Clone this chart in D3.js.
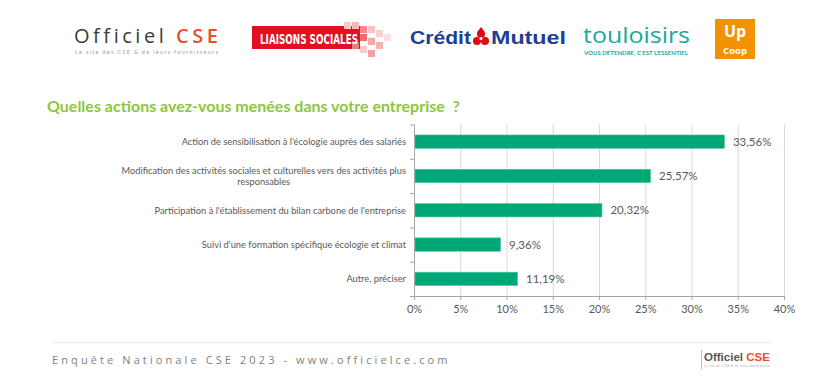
<!DOCTYPE html>
<html><head><meta charset="utf-8">
<script src="https://cdn.jsdelivr.net/npm/d3@7"></script>
<style>body{margin:0;background:#fff}svg{display:block;font-family:Lato,"Open Sans",sans-serif}</style>
</head><body>
<svg id="c" width="832" height="380"></svg>
<script>
const categories = [
  "Action de sensibilisation à l'écologie auprès des salariés",
  "Modification des activités sociales et culturelles vers des activités plus|responsables",
  "Participation à l'établissement du bilan carbone de l'entreprise",
  "Suivi d'une formation spécifique écologie et climat",
  "Autre, préciser"
];
const values = [33.56, 25.57, 20.32, 9.36, 11.19];
const valueLabels = ["33,56%", "25,57%", "20,32%", "9,36%", "11,19%"];
const xTicks = [0, 5, 10, 15, 20, 25, 30, 35, 40];
const title = "Quelles actions avez-vous menées dans votre entreprise  ?";
const footer = "Enquête Nationale CSE 2023 - www.officielce.com";

const svg = d3.select("#c");
const x = d3.scaleLinear().domain([0, 40]).range([414, 784]);
const y = d3.scaleBand().domain(categories).range([124.5, 296]).paddingInner(0.61).paddingOuter(0.305);

// ---- logos (approximations as text/shapes)
const lg = svg.append("g");
lg.append("text").attr("x", 74).attr("y", 43).attr("font-family", "'Open Sans',sans-serif").attr("font-size", 20).attr("fill", "#3c3c3c")
  .style("font-variant-ligatures", "none").style("font-feature-settings", "'liga' 0")
  .attr("textLength", 144).attr("lengthAdjust", "spacing").text("Officiel ")
  .append("tspan").attr("fill", "#e5532d").attr("font-weight", 600).text("CSE");
lg.append("text").attr("x", 75).attr("y", 54).attr("font-size", 5.4).attr("fill", "#9a9a9a").attr("textLength", 143).attr("lengthAdjust", "spacing").text("Le site des CSE & de leurs fournisseurs");

lg.append("rect").attr("x", 252).attr("y", 26).attr("width", 108).attr("height", 23).attr("fill", "#e3101f");
const sq = [[352,22,"#f7b7b7"],[360,26,"#f28a8a"],[368,26,"#f6c1c1"],[376,30,"#f9d0d0"],[360,34,"#ee6b6b"],[368,38,"#f4a9a9"],[352,42,"#ef7b7b"],[376,42,"#f5b4b4"],[360,46,"#f8caca"],[368,50,"#f3a0a0"],[384,34,"#fbe0e0"],[344,22,"#f7c9c9"]];
sq.forEach(s => lg.append("rect").attr("x", s[0]).attr("y", s[1]).attr("width", 7).attr("height", 7).attr("fill", s[2]));
lg.append("text").attr("x", 260).attr("y", 44).attr("font-family", "'Liberation Sans Narrow','DejaVu Sans Condensed',sans-serif").attr("font-weight", 700).attr("font-size", 14).attr("fill", "#fff").attr("textLength", 98).attr("lengthAdjust", "spacingAndGlyphs").text("LIAISONS SOCIALES");

lg.append("text").attr("x", 410).attr("y", 44).attr("font-family", "'Liberation Sans',Arial,sans-serif").attr("font-weight", 700).attr("font-size", 18).attr("fill", "#1c3f94").attr("textLength", 61).attr("lengthAdjust", "spacingAndGlyphs").text("Crédit");
lg.append("text").attr("x", 491).attr("y", 44).attr("font-family", "'Liberation Sans',Arial,sans-serif").attr("font-weight", 700).attr("font-size", 18).attr("fill", "#1c3f94").attr("textLength", 75).attr("lengthAdjust", "spacingAndGlyphs").text("Mutuel");
[[481,34],[477,41],[485,41]].forEach(c => lg.append("circle").attr("cx", c[0]).attr("cy", c[1]).attr("r", 4).attr("fill", "#e30613"));
lg.append("circle").attr("cx", 481).attr("cy", 38.5).attr("r", 1.6).attr("fill", "#fff");
lg.append("path").attr("d", "M478,31 L481,27 L484,31 Z").attr("fill", "#e30613");

lg.append("text").attr("x", 583).attr("y", 43).attr("font-family", "'Open Sans',sans-serif").attr("font-size", 22).attr("fill", "#1aa89c").attr("textLength", 107).attr("lengthAdjust", "spacingAndGlyphs").text("touloisirs");
lg.append("text").attr("x", 584).attr("y", 55).attr("font-size", 5).attr("font-weight", 700).attr("fill", "#1aa89c").attr("textLength", 104).attr("lengthAdjust", "spacingAndGlyphs").text("VOUS DÉTENDRE, C'EST L'ESSENTIEL");

lg.append("rect").attr("x", 715).attr("y", 19).attr("width", 40).attr("height", 40).attr("fill", "#f39200");
lg.append("text").attr("x", 735).attr("y", 37).attr("text-anchor", "middle").attr("font-family", "'Open Sans',sans-serif").attr("font-weight", 700).attr("font-size", 16).attr("fill", "#fff").text("Up");
lg.append("text").attr("x", 735).attr("y", 54).attr("text-anchor", "middle").attr("font-family", "'Open Sans',sans-serif").attr("font-weight", 700).attr("font-size", 9.5).attr("fill", "#fff").text("Coop");

// ---- title
svg.append("text").attr("x", 47).attr("y", 112).attr("font-size", 16).attr("font-weight", 700).attr("fill", "#8dc63f")
  .style("white-space", "pre").text(title);

// ---- gridlines
svg.append("g").selectAll("line").data(xTicks.slice(1)).join("line")
  .attr("x1", d => x(d) + 0.5).attr("x2", d => x(d) + 0.5).attr("y1", 124.5).attr("y2", 296)
  .attr("stroke", "#d9d9d9").attr("stroke-width", 1);

// ---- bars
svg.append("g").selectAll("rect").data(values).join("rect")
  .attr("x", x(0) + 1).attr("y", (d, i) => y(categories[i]))
  .attr("width", d => x(d) - x(0) - 1).attr("height", y.bandwidth())
  .attr("fill", "#00a878").attr("stroke", "#4cc79e").attr("stroke-width", 0.6);

// ---- value labels
svg.append("g").selectAll("text").data(values).join("text")
  .attr("x", d => x(d) + 8.5).attr("y", (d, i) => y(categories[i]) + y.bandwidth() / 2 + 4)
  .attr("font-size", 11.5).attr("fill", "#595959").text((d, i) => valueLabels[i]);

// ---- x axis
const xa = svg.append("g").attr("transform", "translate(0,296)")
  .call(d3.axisBottom(x).tickValues(xTicks).tickFormat(d => d + "%").tickSizeInner(4).tickSizeOuter(0));
xa.select(".domain").attr("stroke", "#a6a6a6");
xa.selectAll(".tick line").attr("stroke", "#a6a6a6");
xa.selectAll("text").attr("font-family", "Lato,sans-serif").attr("font-size", 11).attr("fill", "#595959").attr("dy", "0.9em");

// ---- y axis
const ya = svg.append("g").attr("transform", "translate(414,0)")
  .call(d3.axisLeft(d3.scaleLinear().domain([0, 5]).range([124.5, 296])).tickValues([0,1,2,3,4,5]).tickFormat("").tickSize(4));
ya.select(".domain").attr("stroke", "#a6a6a6").attr("d", "M0.5,124.5V296");
ya.selectAll(".tick line").attr("stroke", "#a6a6a6");

// ---- category labels
const fs = 9.3;
const cl = svg.append("g");
categories.forEach((c, i) => {
  const lines = c.split("|");
  const cy = y(c) + y.bandwidth() / 2;
  if (lines.length === 1) {
    cl.append("text").attr("x", 406).attr("y", cy + 3.3).attr("text-anchor", "end")
      .attr("font-size", fs).attr("fill", "#595959").text(lines[0]);
  } else {
    const t = cl.append("text").attr("font-size", fs).attr("fill", "#595959").attr("text-anchor", "middle");
    const tmp = cl.append("text").attr("font-size", fs).text(lines[0]);
    const w = tmp.node().getComputedTextLength(); tmp.remove();
    const cx = 406 - w / 2;
    lines.forEach((l, j) => t.append("tspan").attr("x", cx).attr("y", cy + 3.3 + (j - (lines.length - 1) / 2) * 11.5).text(l));
  }
});

// ---- footer
svg.append("line").attr("x1", 52).attr("x2", 771).attr("y1", 342.5).attr("y2", 342.5).attr("stroke", "#eeeeee").attr("stroke-width", 1.5);
svg.append("text").attr("x", 52).attr("y", 364).attr("font-family", "'Open Sans',sans-serif").attr("font-size", 11).attr("letter-spacing", 3.1).attr("fill", "#7f7f7f").text(footer);
svg.append("line").attr("x1", 701.5).attr("x2", 701.5).attr("y1", 350).attr("y2", 369).attr("stroke", "#bdbdbd");
svg.append("text").attr("x", 704).attr("y", 361).attr("font-family", "'Liberation Sans',Arial,sans-serif").attr("font-weight", 700).attr("font-size", 11.5).attr("fill", "#555").text("Officiel ")
  .append("tspan").attr("fill", "#e5532d").text("CSE");
svg.append("text").attr("x", 704).attr("y", 366.5).attr("font-size", 3.2).attr("fill", "#aaa").attr("textLength", 66).text("Le site des CSE & de leurs fournisseurs");
</script>
</body></html>
